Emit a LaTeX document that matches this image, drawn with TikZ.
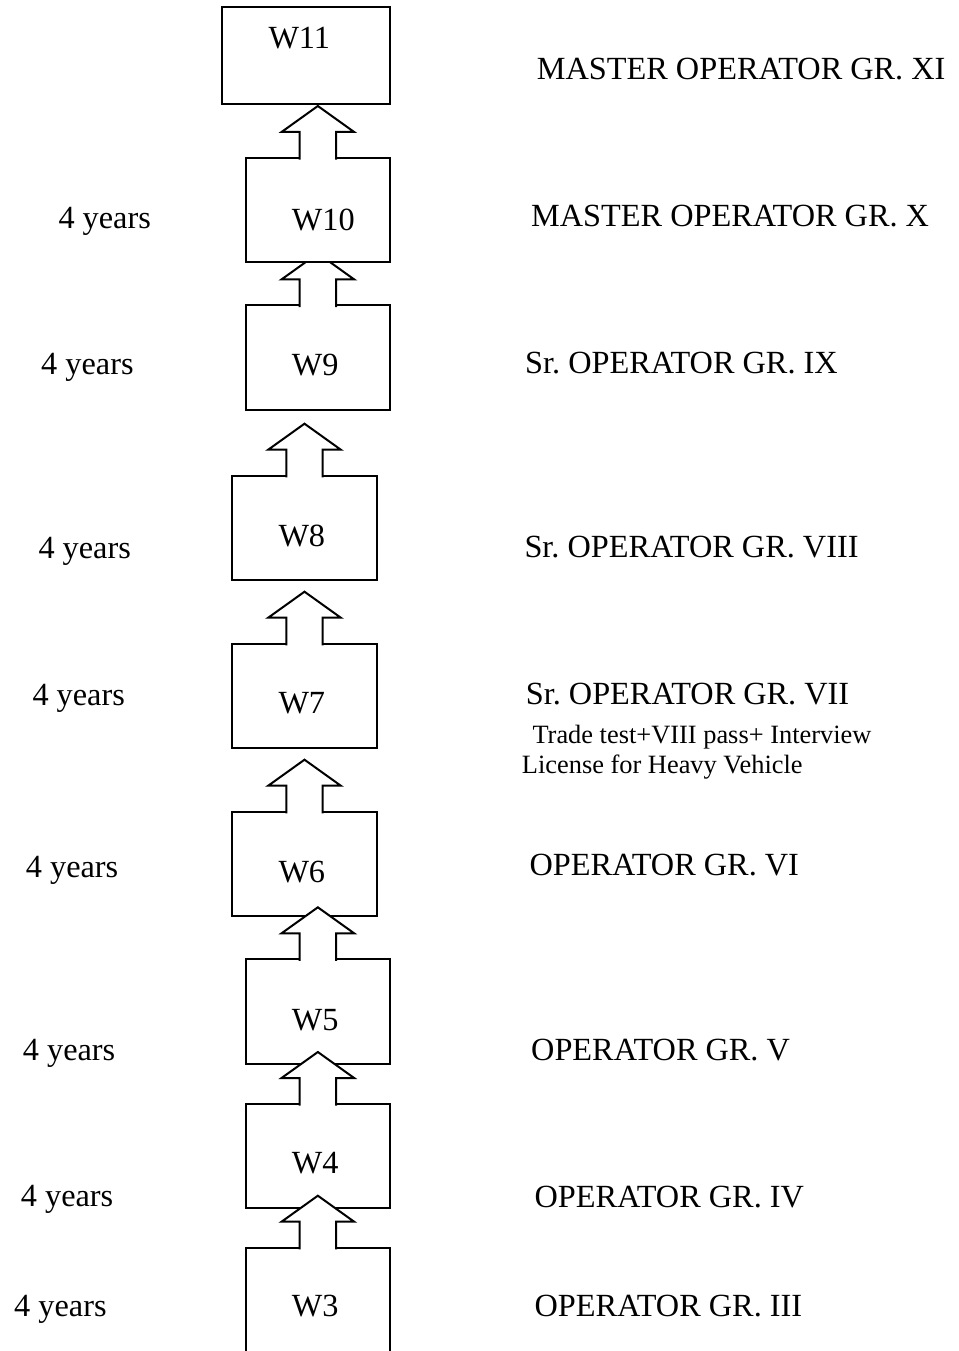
\documentclass[tikz,border=0pt]{standalone}
\usepackage{fontspec}
\setmainfont{Liberation Serif}
\usetikzlibrary{backgrounds}
\frenchspacing

% block arrow standing on the top of a grade box
\newcommand{\promote}[1]{\draw[promo] (#1.north) +(-18.2,-1.6) -- +(-18.2,26) -- +(-36.3,26) -- +(0,52) -- +(36.3,26) -- +(18.2,26) -- +(18.2,-1.6);}

\begin{document}
\begin{tikzpicture}[x=1pt, y=1pt,
    grade/.style={draw, fill=white, line width=2pt, inner sep=0pt, outer sep=0pt, minimum width=144.4pt, minimum height=104.4pt},
    promo/.style={draw, fill=white, line width=2pt, line join=miter},
    txt/.style={anchor=base west, inner sep=0pt, font=\fontsize{32.3}{38}\selectfont},
    note/.style={anchor=base west, inner sep=0pt, align=left, font=\fontsize{26.4}{30}\selectfont}]

    \useasboundingbox (0,0) rectangle (958,-1351);
    \clip (0,0) rectangle (958,-1351);

    %define the grade boxes
    \node[grade, minimum width=168.3pt, minimum height=96.7pt] (w11) at (305.85,-55.65) {};
    \node[grade] (w9) at (317.85,-357.6) {};
    \node[grade, minimum height=104.6pt] (w8) at (304.5,-528) {};
    \node[grade, minimum height=104.6pt] (w7) at (304.5,-696) {};
    \node[grade, minimum height=104.3pt] (w6) at (304.5,-863.85) {};
    \node[grade, minimum height=104.7pt] (w5) at (317.85,-1011.65) {};
    \node[grade, minimum height=104.3pt] (w4) at (317.85,-1156.15) {};
    \node[grade, minimum height=120pt] (w3) at (317.85,-1307.7) {};

    % W9 to W10 goes under the W10 box
    \promote{w9}
    \node[grade, minimum height=104.3pt] (w10) at (317.85,-210.15) {};

    % the other promotions
    \promote{w10}
    \promote{w8}
    \promote{w7}
    \promote{w6}
    \promote{w5}
    \promote{w4}
    \promote{w3}

    % names in the boxes
    \node[txt] (t11) at (268.3,-48.3) {W11};
    \node[txt] (t10) at (291.7,-230) {W10};
    \node[txt] (t9) at (291.7,-375) {W9};
    \node[txt] (t8) at (278.3,-546) {W8};
    \node[txt] (t7) at (278.3,-713.3) {W7};
    \node[txt] (t6) at (278.3,-882.3) {W6};
    \node[txt] (t5) at (291.7,-1030) {W5};
    \node[txt] (t4) at (291.7,-1173.3) {W4};
    \node[txt] (t3) at (291.7,-1316.7) {W3};

    % years on the left
    \node[txt] (yr10) at (58.3,-228) {4 years};
    \node[txt] (yr9) at (41,-374.3) {4 years};
    \node[txt] (yr8) at (38.3,-558.3) {4 years};
    \node[txt] (yr7) at (32.3,-705.6) {4 years};
    \node[txt] (yr6) at (25.7,-877) {4 years};
    \node[txt] (yr5) at (22.7,-1060) {4 years};
    \node[txt] (yr4) at (20.7,-1206.5) {4 years};
    \node[txt] (yr3) at (14,-1316) {4 years};

    % designations on the right
    \node[txt] (g11) at (536.7,-80) {MASTER OPERATOR GR. XI};
    \node[txt] (g10) at (531,-226.7) {MASTER OPERATOR GR. X};
    \node[txt] (g9) at (525,-373.3) {Sr. OPERATOR GR. IX};
    \node[txt] (g8) at (524.3,-557.3) {Sr. OPERATOR GR. VIII};
    \node[txt] (g7) at (525.7,-704.3) {Sr. OPERATOR GR. VII};
    \node[note] (req) at (521.7,-773.3) {\hspace*{10.6pt}Trade test+VIII pass+ Interview\\License for Heavy Vehicle};
    \node[txt] (g6) at (529.3,-875) {OPERATOR GR. VI};
    \node[txt] (g5) at (531,-1060) {OPERATOR GR. V};
    \node[txt] (g4) at (534.3,-1207.3) {OPERATOR GR. IV};
    \node[txt] (g3) at (534.3,-1316.7) {OPERATOR GR. III};
\end{tikzpicture}
\end{document}
